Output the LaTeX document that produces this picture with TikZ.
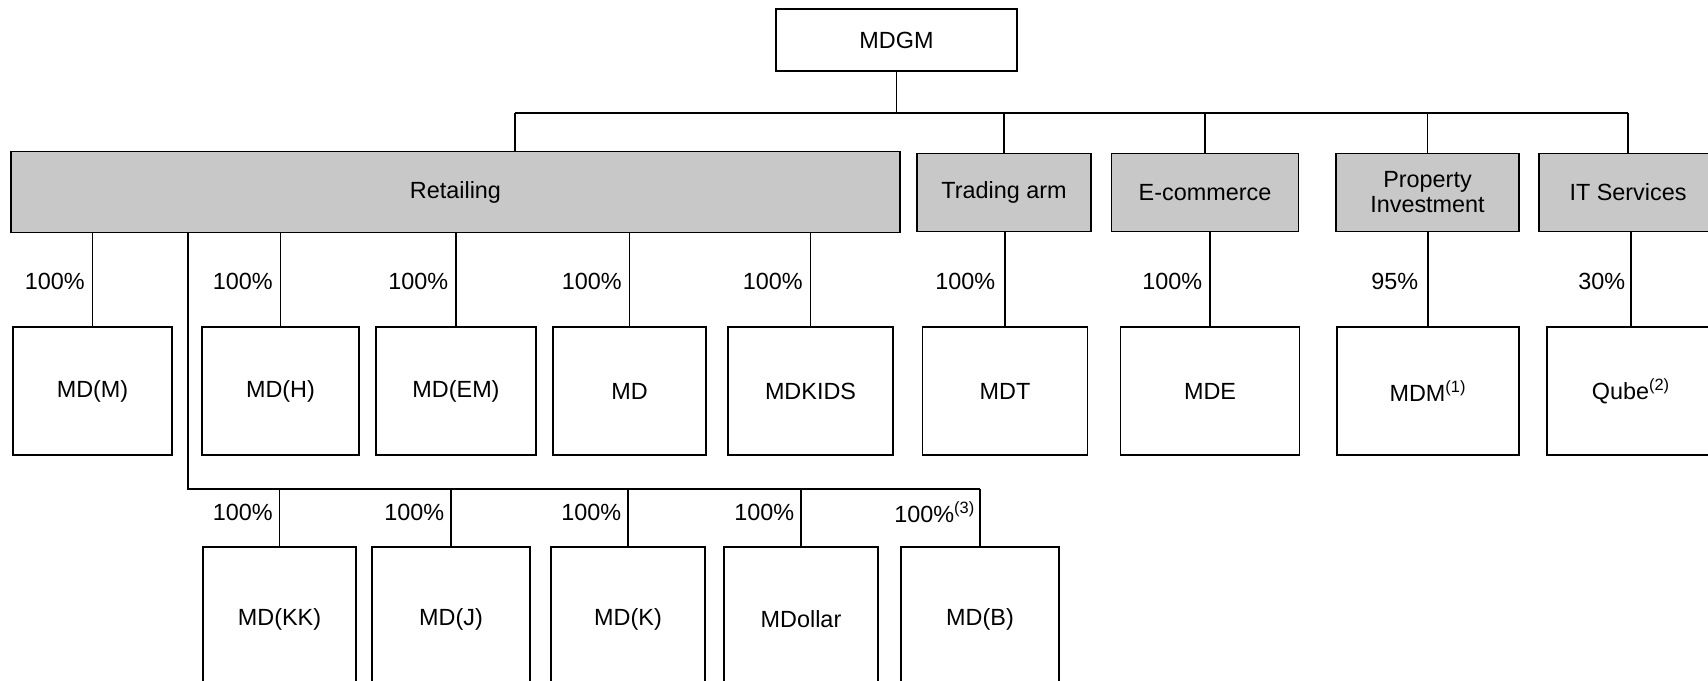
\documentclass[tikz,border=0pt]{standalone}
\usepackage{fontspec}
\setmainfont{Liberation Sans}
\usetikzlibrary{calc}
\definecolor{boxgray}{RGB}{200,200,200}
\begin{document}
\begin{tikzpicture}[x=0.5pt,y=-0.5pt, line width=0.75pt,
  every node/.style={font=\fontsize{11.7}{12.5}\selectfont},
  wh/.style 2 args={minimum width=#1*0.5pt, minimum height=#2*0.5pt, inner sep=0pt},
  unit/.style={draw, fill=white},
  div/.style={draw, fill=boxgray, align=center},
  pct/.style={anchor=east, inner sep=0pt}]
\useasboundingbox (0,0) rectangle (1708,680);
% top
\node[unit, wh={241}{62}] (mdgm) at (896.5,40) {MDGM};
% divisions
\node[div, wh={889}{81}] (ret) at (455.5,192) {Retailing};
\node[div, wh={174}{78}] (trd) at (1004,192.5) {Trading arm};
\node[div, wh={187}{78}] (ecom) at (1205,192.5) {E-commerce};
\node[div, wh={183}{78}] (prop) at (1427.5,192.5) {Property\\Investment};
\node[div, wh={178}{78}] (its) at (1628,192.5) {IT Services};
% first row of units
\node[unit, wh={159}{128}] (mdm) at (92.5,391) {MD(M)};
\node[unit, wh={157}{128}] (mdh) at (280.5,391) {MD(H)};
\node[unit, wh={160}{128}] (mdem) at (456,391) {MD(EM)};
\node[unit, wh={153}{128}] (md) at (629.5,391) {MD};
\node[unit, wh={165}{128}] (mdkids) at (810.5,391) {MDKIDS};
\node[unit, wh={165}{128}] (mdt) at (1005,391) {MDT};
\node[unit, wh={179}{128}] (mde) at (1210,391) {MDE};
\node[unit, wh={182}{128}] (mdmp) at (1428,391) {MDM\textsuperscript{(1)}};
\node[unit, wh={168}{128}] (qube) at (1631,391) {Qube\textsuperscript{(2)}};
% second row of units
\node[unit, wh={153}{145}] (mdkk) at (279.5,619.5) {MD(KK)};
\node[unit, wh={158}{145}] (mdj) at (451,619.5) {MD(J)};
\node[unit, wh={154}{145}] (mdk) at (628,619.5) {MD(K)};
\node[unit, wh={154}{145}] (mdol) at (801,619.5) {MDollar};
\node[unit, wh={158}{145}] (mdb) at (980,619.5) {MD(B)};
% bus from MDGM
\coordinate (rdrop) at (515,113);
\draw (mdgm.south) -- (mdgm.south |- rdrop);
\draw (rdrop) -- (its.north |- rdrop);
\draw (rdrop) -- (rdrop |- ret.north);
\draw (trd.north) -- (trd.north |- rdrop);
\draw (ecom.north) -- (ecom.north |- rdrop);
\draw (prop.north) -- (prop.north |- rdrop);
\draw (its.north) -- (its.north |- rdrop);
% first row connectors
\foreach \c/\p in {mdm/ret, mdh/ret, mdem/ret, md/ret, mdkids/ret, mdt/trd, mde/ecom, mdmp/prop, qube/its}
  \draw (\c.north) -- (\c.north |- \p.south);
% second row bracket
\coordinate (brk) at (188,489);
\draw (brk |- ret.south) -- (brk) -- (mdb.north |- brk);
\foreach \c in {mdkk, mdj, mdk, mdol, mdb}
  \draw (\c.north) -- (\c.north |- brk);
% percentages, first row
\node[pct] (p1) at ($(mdm.north)+(-7,-45)$) {100\%};
\node[pct] (p2) at ($(mdh.north)+(-7,-45)$) {100\%};
\node[pct] (p3) at ($(mdem.north)+(-7,-45)$) {100\%};
\node[pct] (p4) at ($(md.north)+(-7,-45)$) {100\%};
\node[pct] (p5) at ($(mdkids.north)+(-7,-45)$) {100\%};
\node[pct] (p6) at ($(mdt.north)+(-9,-45)$) {100\%};
\node[pct] (p7) at ($(mde.north)+(-7,-45)$) {100\%};
\node[pct] (p8) at ($(mdmp.north)+(-9,-45)$) {95\%};
\node[pct] (p9) at ($(qube.north)+(-5,-45)$) {30\%};
% percentages, second row
\node[pct] (q1) at ($(mdkk.north)+(-6,-34)$) {100\%};
\node[pct] (q2) at ($(mdj.north)+(-6,-34)$) {100\%};
\node[pct] (q3) at ($(mdk.north)+(-6,-34)$) {100\%};
\node[pct] (q4) at ($(mdol.north)+(-6,-34)$) {100\%};
\node[pct] (q5) at ($(mdb.north)+(-4,-34)$) {100\%\textsuperscript{(3)}};
\end{tikzpicture}
\end{document}
